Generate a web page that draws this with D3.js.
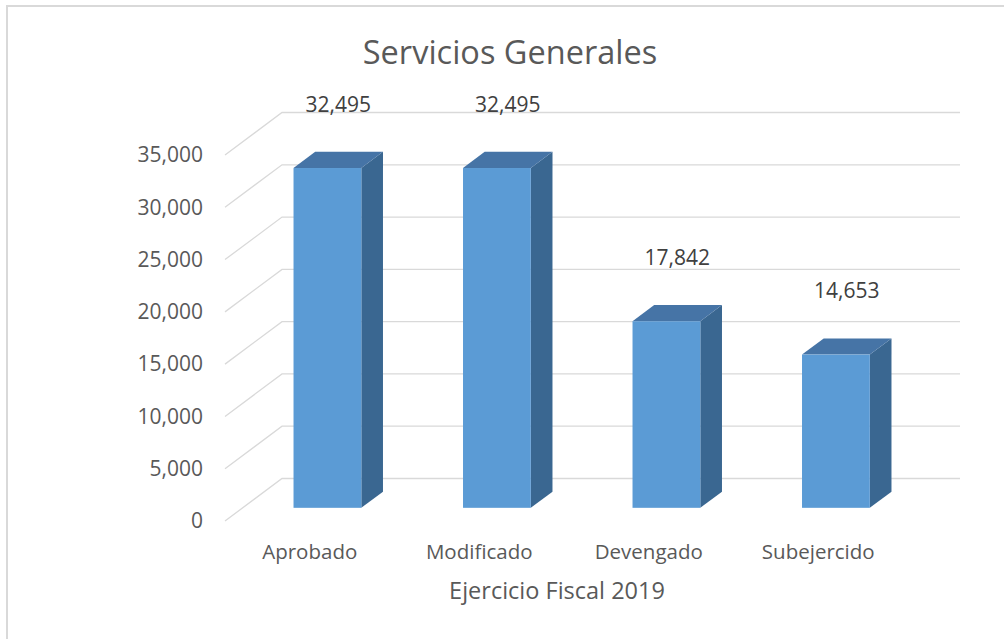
<!DOCTYPE html>
<html>
<head>
<meta charset="utf-8">
<script src="https://cdn.jsdelivr.net/npm/d3@7"></script>
<style>
  body { margin: 0; background: #fff; }
  svg { display: block; }
  text { font-family: "Open Sans", sans-serif; fill: #595959; }
</style>
</head>
<body>
<svg width="1004" height="639"></svg>
<script>
// chart data
var categories = ["Aprobado", "Modificado", "Devengado", "Subejercido"];
var values = [32495, 32495, 17842, 14653];
var yTicks = [0, 5000, 10000, 15000, 20000, 25000, 30000, 35000];
var chartTitle = "Servicios Generales";
var xTitle = "Ejercicio Fiscal 2019";

var svg = d3.select("svg");
var width = +svg.attr("width");

// chart frame
svg.append("rect")
    .attr("x", 7).attr("y", 6)
    .attr("width", width + 10).attr("height", 700)
    .attr("fill", "#fff")
    .attr("stroke", "#d9d9d9")
    .attr("stroke-width", 2);

// front plane scales, depth vector goes back to the wall
var x = d3.scaleBand()
    .domain(categories)
    .range([225, 903])
    .paddingInner(0.6)
    .paddingOuter(0.3);

var y = d3.scaleLinear()
    .domain([0, 35000])
    .range([521, 155]);

var depth = { dx: 57, dy: -42.5 };
var barFront = 0.31, barBack = 0.69;

var fmt = d3.format(",");

// walls: side diagonals + back gridlines
var grid = svg.append("g").attr("class", "grid");
grid.selectAll("path.side")
    .data(yTicks)
    .enter().append("path")
    .attr("class", "side")
    .attr("d", function(d) {
        return "M" + x.range()[0] + "," + y(d) +
            "L" + (x.range()[0] + depth.dx) + "," + (y(d) + depth.dy) +
            "H" + (x.range()[1] + depth.dx);
    })
    .attr("fill", "none")
    .attr("stroke", "#d9d9d9")
    .attr("stroke-width", 1.3);

// tick labels
svg.append("g").selectAll("text")
    .data(yTicks)
    .enter().append("text")
    .attr("x", 203)
    .attr("y", function(d) { return y(d); })
    .attr("dy", "0.35em")
    .attr("text-anchor", "end")
    .style("font-size", "21px")
    .text(function(d) { return fmt(d); });

// bars
var bars = svg.append("g").selectAll("g.bar")
    .data(categories.map(function(c, i) { return { cat: c, value: values[i] }; }))
    .enter().append("g")
    .attr("class", "bar");

var fx = depth.dx * barFront, fy = depth.dy * barFront;
var sx = depth.dx * (barBack - barFront), sy = depth.dy * (barBack - barFront);
var bw = x.bandwidth();

bars.append("path") // side
    .attr("fill", "#3a6791")
    .attr("d", function(d) {
        var x1 = x(d.cat) + fx + bw, top = y(d.value) + fy, bot = y(0) + fy;
        return "M" + x1 + "," + top + "L" + (x1 + sx) + "," + (top + sy) +
            "L" + (x1 + sx) + "," + (bot + sy) + "L" + x1 + "," + bot + "Z";
    });

bars.append("path") // top
    .attr("fill", "#4674a6")
    .attr("d", function(d) {
        var x0 = x(d.cat) + fx, top = y(d.value) + fy;
        return "M" + x0 + "," + top + "L" + (x0 + sx) + "," + (top + sy) +
            "L" + (x0 + bw + sx) + "," + (top + sy) + "L" + (x0 + bw) + "," + top + "Z";
    });

bars.append("rect") // front
    .attr("fill", "#5b9bd5")
    .attr("x", function(d) { return x(d.cat) + fx; })
    .attr("y", function(d) { return y(d.value) + fy; })
    .attr("width", bw)
    .attr("height", function(d) { return y(0) - y(d.value); });

// data labels
bars.append("text")
    .attr("x", function(d) { return x(d.cat) + fx + bw / 2 + sx / 2; })
    .attr("y", function(d) { return y(d.value) + fy + sy - 40; })
    .attr("text-anchor", "middle")
    .style("font-size", "21px")
    .style("fill", "#404040")
    .text(function(d) { return fmt(d.value); });

// category labels
svg.append("g").selectAll("text")
    .data(categories)
    .enter().append("text")
    .attr("x", function(d) { return x(d) + bw / 2; })
    .attr("y", 559)
    .attr("text-anchor", "middle")
    .style("font-size", "20.5px")
    .text(function(d) { return d; });

// axis title
svg.append("text")
    .attr("x", 557)
    .attr("y", 599)
    .attr("text-anchor", "middle")
    .style("font-size", "23.5px")
    .text(xTitle);

// chart title
svg.append("text")
    .attr("x", 510)
    .attr("y", 64)
    .attr("text-anchor", "middle")
    .style("font-size", "32.5px")
    .text(chartTitle);
</script>
</body>
</html>
